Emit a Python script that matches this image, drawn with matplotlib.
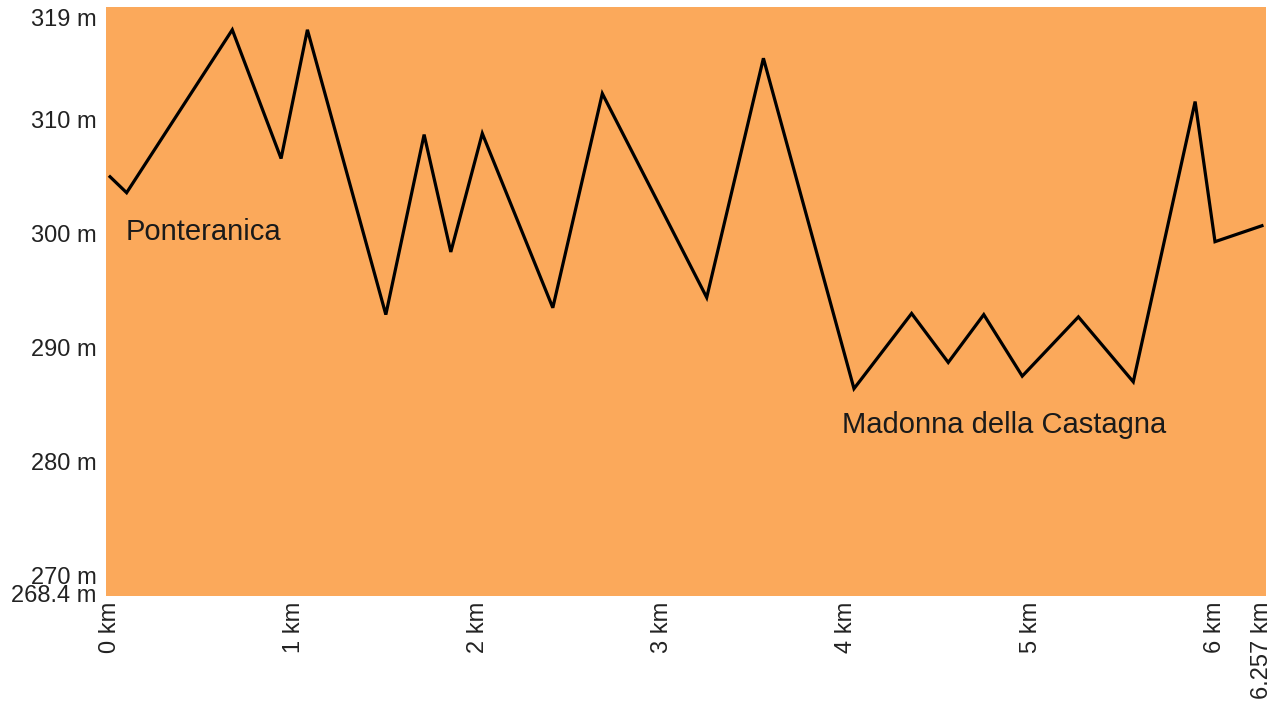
import matplotlib
matplotlib.use("Agg")
import matplotlib.pyplot as plt

# Elevation profile data (distance in km, elevation in m)
distance_km = [0.0, 0.09, 0.664, 0.929, 1.072, 1.498, 1.706, 1.851, 2.022, 2.405,
               2.674, 3.241, 3.549, 4.041, 4.354, 4.553, 4.746, 4.955, 5.260,
               5.558, 5.894, 6.002, 6.257]
elevation_m = [305.0, 303.6, 317.9, 306.6, 317.9, 292.9, 308.7, 298.4, 308.8, 293.5,
               312.3, 294.4, 315.4, 286.4, 293.0, 288.7, 292.9, 287.5, 292.7,
               287.0, 311.6, 299.3, 300.7]

x_ticks = [0, 1, 2, 3, 4, 5, 6, 6.257]
x_tick_labels = ["0 km", "1 km", "2 km", "3 km", "4 km", "5 km", "6 km", "6.257 km"]
y_ticks = [268.4, 270, 280, 290, 300, 310, 319]
y_tick_labels = ["268.4 m", "270 m", "280 m", "290 m", "300 m", "310 m", "319 m"]

place_names = ["Ponteranica", "Madonna della Castagna"]
place_x = [0.087, 3.974]
place_y = [299.45, 282.5]

plt.rcParams['font.family'] = ['Liberation Sans', 'DejaVu Sans']

fig = plt.figure(figsize=(12.82, 7.09), dpi=100)
ax = fig.add_axes([106 / 1282, 113 / 709, 1160 / 1282, 589 / 709])
ax.set_facecolor('#fba95b')

ax.plot(distance_km, elevation_m, color='black', linewidth=2.3, solid_joinstyle='miter')

for name, px, py in zip(place_names, place_x, place_y):
    ax.text(px, py, name, fontsize=21, color='#1a1a1a', ha='left', va='baseline')

ax.set_xlim(-0.022, 6.279)
ax.set_ylim(268.2, 319.9)

ax.set_xticks(x_ticks)
ax.set_xticklabels(x_tick_labels, rotation=90, fontsize=17, color='#222222')
ax.set_yticks(y_ticks)
ax.set_yticklabels(y_tick_labels, fontsize=17, color='#222222')
ax.tick_params(axis='both', length=0)
ax.tick_params(axis='x', pad=4)
ax.tick_params(axis='y', pad=7)

for s in ax.spines.values():
    s.set_visible(False)

fig.savefig('out.png', dpi=100, facecolor='white')
